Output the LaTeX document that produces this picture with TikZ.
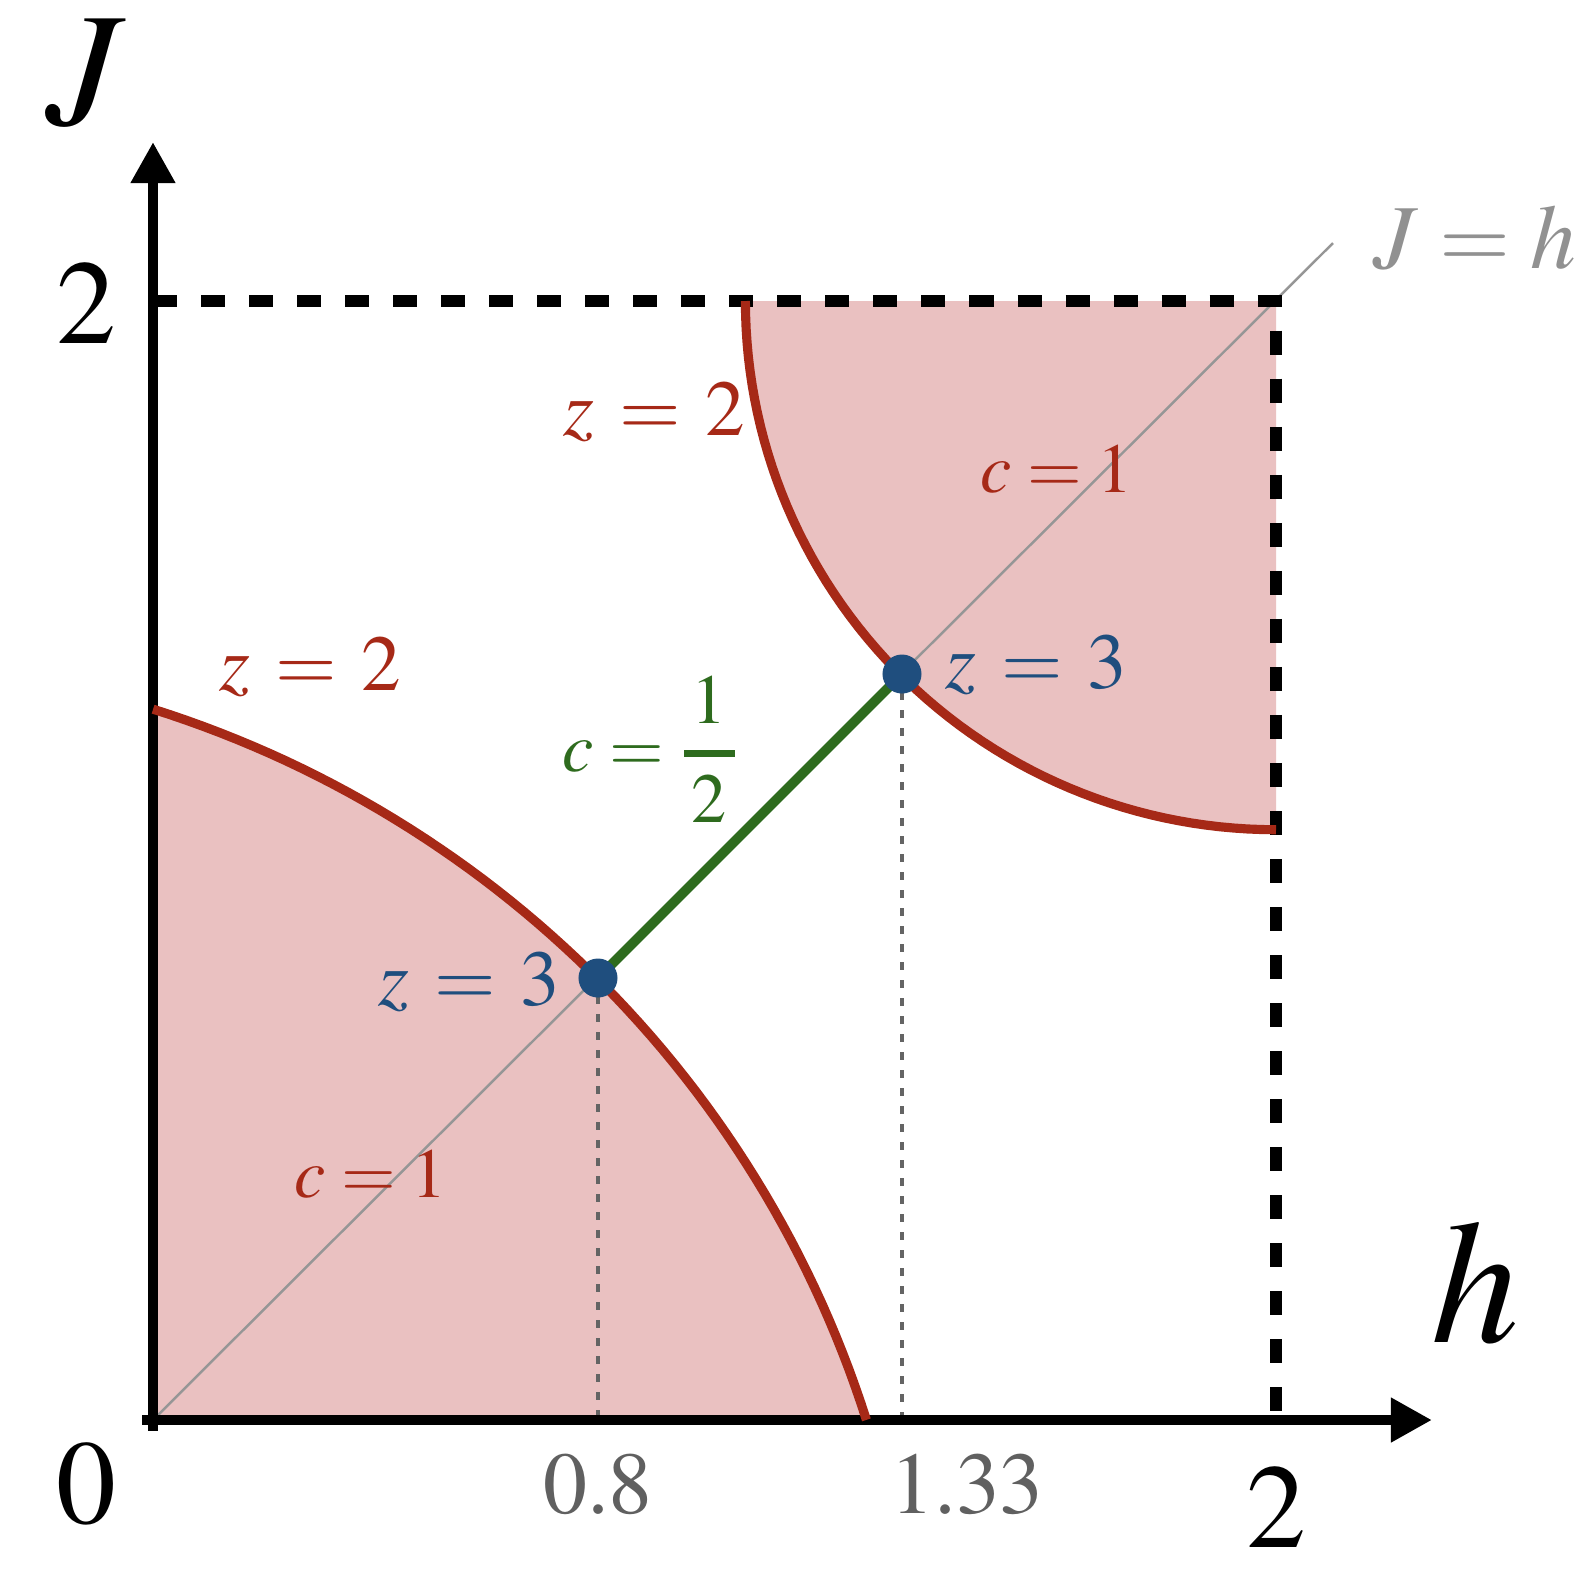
\documentclass[tikz,border=0pt]{standalone}
\usepackage[T1]{fontenc}
\usepackage{mathptmx}
\usepackage{amsmath}
\usetikzlibrary{arrows.meta}
\definecolor{cred}{RGB}{166,41,23}
\definecolor{cfill}{RGB}{234,193,193}
\definecolor{cblue}{RGB}{31,78,126}
\definecolor{cgreen}{RGB}{46,107,30}
\definecolor{ctick}{RGB}{96,96,96}
\definecolor{cdiag}{RGB}{150,150,150}
\definecolor{cjh}{RGB}{145,145,145}
\definecolor{cdot}{RGB}{100,100,100}
\begin{document}
\begin{tikzpicture}[x=0.01cm,y=-0.01cm,
  axisline/.style={line width=3.1pt,line cap=rect,-{Triangle[length=0.41cm,width=0.42cm]}},
  boxline/.style={line width=3.4pt,dash pattern=on 0.24cm off 0.24cm},
  curve/.style={cred,line width=2.6pt},
  region/.style={fill=cfill,draw=none},
  diag/.style={cdiag,line width=0.7pt},
  dotline/.style={cdot,line width=1.3pt,dash pattern=on 0.08cm off 0.10cm},
  cline/.style={cgreen,line width=2.8pt},
  dotnode/.style={circle,fill=cblue,inner sep=0pt,minimum size=0.39cm},
  zlbl/.style={font=\fontsize{22.5}{27}\selectfont,inner sep=0pt,anchor=base west,
    execute at begin node={\thickmuskip=5.6mu\relax}},
  clbl/.style={font=\fontsize{20}{24}\selectfont,inner sep=0pt,anchor=base west},
  big/.style={inner sep=0pt,anchor=base}]
\useasboundingbox (0,0) rectangle (1590,1568);
% key points
\coordinate (o) at (153,1420);
\coordinate (xend) at (1432,1420);
\coordinate (yend) at (153,142);
\coordinate (ystart) at (153,1426);
\coordinate (xstart) at (147,1420);
\coordinate (hy) at (153,301);
\coordinate (cc) at (1276,301);
\coordinate (hx) at (1276,1420);
\coordinate (dend) at (1333,243);
\coordinate (p1) at (598,978);
\coordinate (p2) at (902,674);
% shaded regions
\fill[region] (o) -- ({153},{1420-559.5*1.2707})
  -- plot[domain=72.4:17.6,samples=60] ({153+561.5*(-0.59+1.952*cos(\x))},{1420-559.5*(-0.59+1.952*sin(\x))})
  -- cycle;
\fill[region] (cc) -- plot[domain=180:270,samples=60] ({153+561.5*(2+0.945*cos(\x))},{1420-559.5*(2+0.945*sin(\x))}) -- cycle;
% diagonal J = h
\draw[diag] (o) -- (dend);
% dotted drop lines
\draw[dotline] (p1) -- (p1 |- o);
\draw[dotline] (p2) -- (p2 |- o);
% box
\draw[boxline] (hy) -- (cc) -- (hx);
% axes
\draw[axisline] (ystart) -- (yend);
\draw[axisline] (xstart) -- (xend);
% red boundary curves
\draw[curve] plot[domain=72.4:17.6,samples=60] ({153+561.5*(-0.59+1.952*cos(\x))},{1420-559.5*(-0.59+1.952*sin(\x))});
\draw[curve] plot[domain=180:270,samples=60] ({153+561.5*(2+0.945*cos(\x))},{1420-559.5*(2+0.945*sin(\x))});
% c = 1/2 line
\draw[cline] (p1) -- (p2);
% dots
\node[dotnode] (d1) at (p1) {};
\node[dotnode] (d2) at (p2) {};
% axis labels
\node[big,font=\fontsize{46}{54}\selectfont] (lJ) at (86,124) {$J$};
\node[big,font=\fontsize{50}{58}\selectfont] (lh) at (1475,1342) {$h$};
\node[big,font=\fontsize{34}{40}\selectfont] (l2y) at (86,343) {2};
\node[big,font=\fontsize{34}{40}\selectfont] (l0) at (86,1523) {0};
\node[big,font=\fontsize{34}{40}\selectfont] (l2x) at (1276,1547) {2};
\node[big,font=\fontsize{25}{30}\selectfont,ctick] (l08) at (598,1513) {0.8};
\node[big,font=\fontsize{25}{30}\selectfont,ctick] (l133) at (967,1513) {1.33};
\node[big,font=\fontsize{26}{31}\selectfont,cjh] (ljh) at (1475,268) {$J = h$};
% region labels
\node[zlbl,cred] (z2a) at (563,435) {$z = 2$};
\node[zlbl,cred] (z2b) at (219,690) {$z = 2$};
\node[zlbl,cblue] (z3a) at (945,688) {$z = 3$};
\node[zlbl,cblue] (z3b) at (378,1005) {$z = 3$};
\node[clbl,cred] (c1a) at (980,492) {$c = 1$};
\node[clbl,cred] (c1b) at (294,1197) {$c = 1$};
\node[clbl,cgreen] (chalf) at (562,771) {$c = \genfrac{}{}{1.8pt}{0}{\mkern2mu 1\mkern2mu}{\mkern2mu 2\mkern2mu}$};
\end{tikzpicture}
\end{document}
